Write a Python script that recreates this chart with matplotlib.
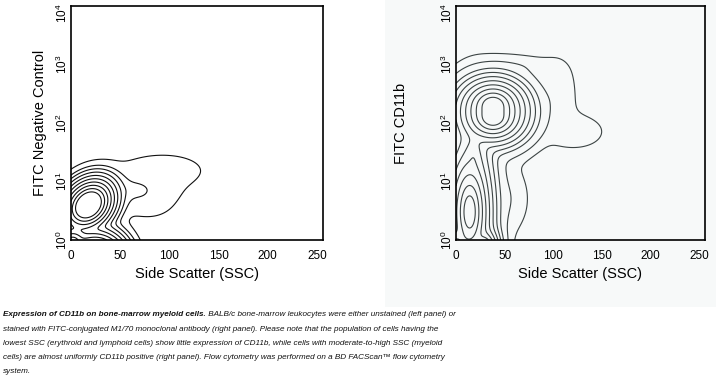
import numpy as np
import matplotlib
matplotlib.use("Agg")
import matplotlib.pyplot as plt
import matplotlib.transforms as mtransforms
from matplotlib import font_manager
from matplotlib.patches import Rectangle

# ---------------- data ----------------
x_ticks = [0, 50, 100, 150, 200, 250]
y_ticks = [1, 10, 100, 1000, 10000]
y_tick_labels = ["$10^{0}$", "$10^{1}$", "$10^{2}$", "$10^{3}$", "$10^{4}$"]

# cell populations: SSC centre, log10 FITC centre,
# ring spacing in SSC and in log10 FITC, tilt, and log weight
neg_cx = [18, 25, 2, 95, 62, 80]
neg_cv = [0.6, -0.4, -0.05, 1.2, 0.85, 0.6]
neg_sx = [3.3, 3.3, 3.3, 22, 18, 14]
neg_sv = [0.056, 0.056, 0.056, 0.15, 0.14, 0.15]
neg_rho = [0.25, 0.0, 0.0, 0.0, 0.0, 0.0]
neg_logw = [0.0, 2.0, -3.2, -11.86, -11.2, -12.5]
neg_levels = [-13.5, -12, -11, -10, -9, -8, -7, -6, -5, -4]

cd_cx = [38, 38, 14, 29, 0, 18, 65, 105, 125, 50]
cd_cv = [2.3, 2.1, 0.48, -0.15, -0.05, 1.4, 2.95, 2.5, 1.85, 0.7]
cd_sx = [5.1, 5.1, 3.6, 2.5, 4.0, 5.0, 18, 10, 15, 12]
cd_sv = [0.07, 0.07, 0.17, 0.06, 0.07, 0.22, 0.12, 0.3, 0.15, 0.3]
cd_rho = [0.0] * 10
cd_logw = [0.0, 0.0, -0.3, -1.0, -2.0, -5.0, -10.5, -10.3, -10.3, -10.0]
cd_levels = [-12, -10.5, -9, -8, -7, -6, -5, -4, -3, -2]

x_label = "Side Scatter (SSC)"
y_label_left = "FITC Negative Control"
y_label_right = "FITC CD11b"

caption_bold = "Expression of CD11b on bone-marrow myeloid cells."
caption_first_rest = " BALB/c bone-marrow leukocytes were either unstained (left panel) or"
caption_lines = [
    "stained with FITC-conjugated M1/70 monoclonal antibody (right panel). Please note that the population of cells having the",
    "lowest SSC (erythroid and lymphoid cells) show little expression of CD11b, while cells with moderate-to-high SSC (myeloid",
    "cells) are almost uniformly CD11b positive (right panel). Flow cytometry was performed on a BD FACScan\u2122 flow cytometry",
    "system.",
]

# ---------------- style ----------------
names = {f.name for f in font_manager.fontManager.ttflist}
base_font = "Liberation Sans" if "Liberation Sans" in names else "DejaVu Sans"
plt.rcParams["font.family"] = [base_font, "DejaVu Sans"]
plt.rcParams["mathtext.fontset"] = "custom"
plt.rcParams["mathtext.rm"] = base_font
plt.rcParams["mathtext.it"] = base_font + ":italic"

W, H = 716, 383
fig = plt.figure(figsize=(W / 100, H / 100), dpi=100)
fig.patch.set_facecolor("white")
bg = Rectangle((385 / W, 1 - 307 / H), (W - 385) / W, 307 / H,
               transform=fig.transFigure, facecolor="#f7f9f9",
               edgecolor="none", zorder=-10)
fig.patches.append(bg)


def log_density(cx, cv, sx, sv, rho, logw, X, V):
    Z = np.zeros_like(X)
    for a, b, c, d, r, k in zip(cx, cv, sx, sv, rho, logw):
        dx = (X - a) / c
        dv = (V - b) / d
        q = (dx ** 2 - 2 * r * dx * dv + dv ** 2) / (1 - r ** 2)
        Z += np.exp(k - np.sqrt(q + 0.3))
    return np.log(Z + 1e-300)


xg = np.linspace(0, 256, 700)
vg = np.linspace(0, 4, 700)
X, V = np.meshgrid(xg, vg)


def panel(rect, comps, levels, color, ylab, ylab_x, face):
    ax = fig.add_axes(rect)
    ax.set_facecolor(face)
    logZ = log_density(*comps, X, V)
    ax.contour(X, 10 ** V, logZ, levels=sorted(levels),
               colors=color, linewidths=0.8, linestyles="solid")
    ax.set_yscale("log")
    ax.set_xlim(0, 256)
    ax.set_ylim(1, 10000)
    ax.set_xticks(x_ticks)
    ax.set_xticklabels([str(t) for t in x_ticks], fontsize=8.5)
    ax.set_yticks(y_ticks)
    ax.set_yticklabels(y_tick_labels, fontsize=8.5, rotation=90, va="center")
    ax.yaxis.set_minor_locator(matplotlib.ticker.NullLocator())
    ax.tick_params(length=0)
    ax.tick_params(axis="x", pad=7)
    ax.tick_params(axis="y", pad=0.5)
    top = ax.get_yticklabels()[-1]
    top.set_transform(top.get_transform() +
                      mtransforms.ScaledTranslation(0, -5 / 72, fig.dpi_scale_trans))
    for s in ax.spines.values():
        s.set_linewidth(1.2)
        s.set_color("black")
    ax.set_xlabel(x_label, fontsize=10.5, labelpad=3.5)
    ax.set_ylabel(ylab, fontsize=10.5)
    ax.yaxis.set_label_coords(ylab_x, 0.5)
    return ax


ax1 = panel([70.7 / W, 1 - 240 / H, 252.3 / W, 234 / H],
            (neg_cx, neg_cv, neg_sx, neg_sv, neg_rho, neg_logw), neg_levels,
            "#111111", y_label_left, -0.095, "white")
ax2 = panel([456 / W, 1 - 240 / H, 249 / W, 234 / H],
            (cd_cx, cd_cv, cd_sx, cd_sv, cd_rho, cd_logw), cd_levels,
            "#3c4444", y_label_right, -0.193, "#f7f9f9")

# ---------------- caption ----------------
cap_font = [base_font, "DejaVu Sans"]
cap_size = 5.9
line_y = [315, 329.3, 343.5, 357.7, 371.8]
t0 = fig.text(3 / W, 1 - line_y[0] / H, caption_bold, fontsize=cap_size,
              family=cap_font, style="italic", weight="bold", va="center", color="#111111")
ax1.annotate(caption_first_rest, xy=(1, 0.5), xycoords=t0, va="center", ha="left",
             fontsize=cap_size, family=cap_font, style="italic", color="#111111",
             annotation_clip=False)
for y, line in zip(line_y[1:], caption_lines):
    fig.text(3 / W, 1 - y / H, line, fontsize=cap_size, family=cap_font,
             style="italic", va="center", color="#111111")

fig.savefig("out.png", dpi=100, facecolor=fig.get_facecolor())
